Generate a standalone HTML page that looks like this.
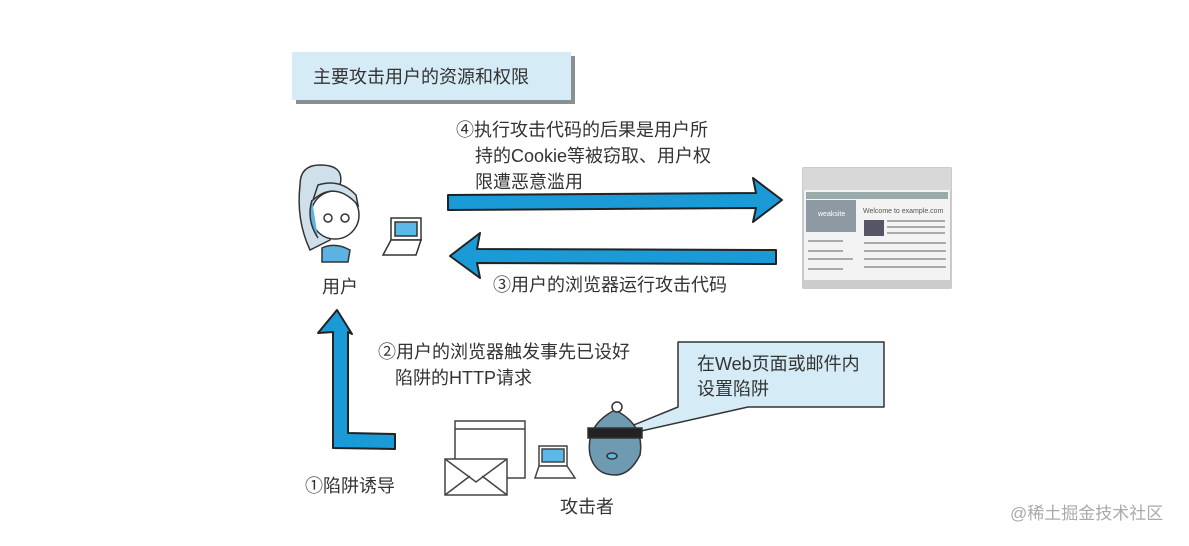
<!DOCTYPE html>
<html><head><meta charset="utf-8"><style>
html,body{margin:0;padding:0;background:#fff}
svg text{font-family:"Liberation Sans","Noto Sans CJK SC",sans-serif;fill:#333}
</style></head><body>
<svg width="1189" height="541" viewBox="0 0 1189 541" xmlns="http://www.w3.org/2000/svg">
<rect width="1189" height="541" fill="#fff"/>
<!-- title box -->
<rect x="296" y="56" width="279" height="48" fill="#8a8f94"/>
<rect x="292" y="52" width="279" height="48" fill="#d5ebf5"/>
<text x="313" y="83" font-size="18">主要攻击用户的资源和权限</text>
<!-- step 4 text -->
<text x="456" y="136" font-size="18">④执行攻击代码的后果是用户所</text>
<text x="475" y="162" font-size="18">持的Cookie等被窃取、用户权</text>
<text x="475" y="188" font-size="18">限遭恶意滥用</text>
<!-- right arrow -->
<path d="M448 195 L756 193 L753 178 L782 200 L753 222 L756 208 L448 210 Z" fill="#1b9ad8" stroke="#222" stroke-width="2" stroke-linejoin="round"/>
<!-- left arrow -->
<path d="M776 250 L477 249 L480 233 L450 256 L480 278 L477 263 L776 264 Z" fill="#1b9ad8" stroke="#222" stroke-width="2" stroke-linejoin="round"/>
<text x="493" y="291" font-size="18">③用户的浏览器运行攻击代码</text>
<!-- user figure -->
<g stroke="#333" stroke-width="1.5" fill="#fff">
<path d="M300 185 Q300 165 320 165 Q345 165 340 185 L330 240 L310 250 Q296 220 300 185Z" fill="#cfe0ea"/>
<circle cx="335" cy="215" r="24" fill="#fff"/>
<path d="M313 200 Q335 180 358 205 L356 195 Q340 178 318 185Z" fill="#cfe0ea"/>
<path d="M312 200 Q306 220 318 238" fill="#5cb2e0"/>
<path d="M322 248 Q335 242 350 250 L348 262 L322 262Z" fill="#5cb2e0"/>
<circle cx="328" cy="218" r="4"/><circle cx="345" cy="218" r="4"/>
</g>
<g stroke="#333" stroke-width="1.5">
<rect x="391" y="218" width="30" height="22" fill="#fff"/>
<rect x="395" y="222" width="22" height="14" fill="#5cb8e6"/>
<path d="M391 240 L421 240 L416 255 L383 255 Z" fill="#fff"/>
</g>
<text x="322" y="293" font-size="18">用户</text>
<!-- browser screenshot -->
<rect x="803" y="168" width="148" height="120" fill="#f3f3f3" stroke="#999"/>
<rect x="803" y="168" width="148" height="22" fill="#d8d8d8"/>
<rect x="806" y="192" width="142" height="7" fill="#9aa"/>
<rect x="806" y="200" width="50" height="32" fill="#8d9aa3"/>
<text x="818" y="216" font-size="7" style="fill:#fff">weaksite</text>
<text x="863" y="213" font-size="7" style="fill:#555">Welcome to example.com</text>
<rect x="864" y="220" width="20" height="16" fill="#556"/>
<g fill="#aaa"><rect x="887" y="220" width="58" height="2"/><rect x="887" y="226" width="58" height="2"/><rect x="887" y="232" width="58" height="2"/><rect x="864" y="242" width="82" height="2"/><rect x="864" y="250" width="82" height="2"/><rect x="864" y="258" width="82" height="2"/><rect x="864" y="266" width="82" height="2"/><rect x="808" y="240" width="35" height="2"/><rect x="808" y="250" width="35" height="2"/><rect x="808" y="258" width="45" height="2"/><rect x="808" y="268" width="35" height="2"/></g>
<rect x="803" y="280" width="148" height="8" fill="#ccc"/>
<!-- up arrow -->
<path d="M333 332 L333 448 L395 449 L395 434 L348 433 L348 332 L352 334 L337 310 L318 333 Z" fill="#1b9ad8" stroke="#222" stroke-width="2" stroke-linejoin="round"/>
<text x="378" y="358" font-size="18">②用户的浏览器触发事先已设好</text>
<text x="395" y="384" font-size="18">陷阱的HTTP请求</text>
<!-- callout -->
<path d="M678 342 L884 342 L884 407 L748 407 L592 442 L678 407 Z" fill="#d5ebf5" stroke="#333" stroke-width="1.5" stroke-linejoin="round"/>
<text x="697" y="370" font-size="18">在Web页面或邮件内</text>
<text x="697" y="395" font-size="18">设置陷阱</text>
<text x="305" y="492" font-size="18">①陷阱诱导</text>
<!-- mock browser + envelope -->
<g stroke="#444" stroke-width="1.5" fill="#fff">
<rect x="455" y="421" width="70" height="57"/>
<line x1="455" y1="429" x2="525" y2="429"/>
<rect x="445" y="459" width="62" height="36"/>
<path d="M445 459 L476 482 L507 459 M445 495 L470 476 M507 495 L482 476" fill="none"/>
<rect x="539" y="446" width="28" height="20"/>
<rect x="542" y="449" width="22" height="13" fill="#5cb8e6"/>
<path d="M539 466 L567 466 L575 478 L535 478 Z"/>
</g>
<!-- attacker -->
<g stroke="#333" stroke-width="1.5">
<path d="M590 455 Q585 425 615 410 Q645 425 640 455 Q630 475 615 475 Q595 475 590 455Z" fill="#6f9bb2"/>
<rect x="588" y="428" width="54" height="10" fill="#222"/>
<circle cx="617" cy="407" r="5" fill="#fff"/>
<ellipse cx="612" cy="456" rx="5" ry="3" fill="#5cb8e6"/>
</g>
<text x="560" y="513" font-size="18">攻击者</text>
<text x="1010" y="519" font-size="17" style="fill:#aaa">@稀土掘金技术社区</text>
</svg>
</body></html>
